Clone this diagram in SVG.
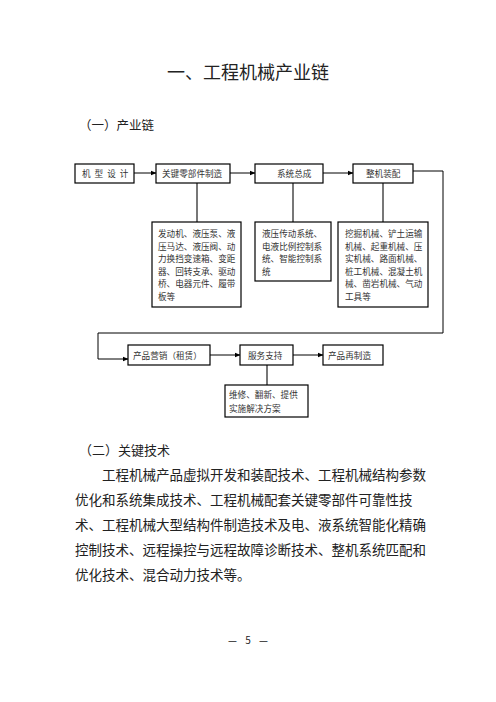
<svg xmlns="http://www.w3.org/2000/svg" width="496" height="702" viewBox="0 0 496 702">
<style>
.h{font-family:"Noto Sans CJK SC","Noto Sans",sans-serif;fill:#222}
.t{font-family:"Noto Sans CJK SC","Noto Sans",sans-serif;font-size:8.6px;fill:#333}
.b{fill:#fff;stroke:#000;stroke-width:1.2}
.c{fill:none;stroke:#000;stroke-width:1}
.g{fill:none;stroke:#555;stroke-width:1.6}
</style>
<defs>
<marker id="a" markerWidth="6" markerHeight="6" refX="5.5" refY="3" orient="auto" markerUnits="userSpaceOnUse">
<path d="M0,0.5 L6,3 L0,5.5 Z" fill="#000"/>
</marker>
</defs>
<rect width="496" height="702" fill="#fff"/>
<text class="h" x="248" y="79" font-size="18" text-anchor="middle">一、工程机械产业链</text>
<text class="h" x="79" y="130" font-size="12.5">（一）产业链</text>

<g id="connectors">
<line class="c" x1="134" y1="173" x2="156" y2="173" marker-end="url(#a)"/>
<line class="c" x1="230" y1="173" x2="255" y2="173" marker-end="url(#a)"/>
<line class="c" x1="323" y1="173" x2="353" y2="173" marker-end="url(#a)"/>
<polyline class="c" points="413,171 443,171 443,333 98,333 98,359 128,359" marker-end="url(#a)"/>
<line class="g" x1="197" y1="183" x2="197" y2="222"/>
<line class="g" x1="293" y1="183" x2="293" y2="222"/>
<line class="g" x1="383" y1="183" x2="383" y2="222"/>
<line class="c" x1="210" y1="355" x2="240" y2="355" marker-end="url(#a)"/>
<line class="c" x1="293" y1="355" x2="323" y2="355" marker-end="url(#a)"/>
<line class="g" x1="267" y1="365" x2="267" y2="385"/>
</g>

<g id="n1"><rect class="b" x="75" y="164" width="59" height="19"/><text class="t" x="82" y="177" letter-spacing="4">机型设计</text></g>
<g id="n2"><rect class="b" x="156" y="164" width="74" height="19"/><text class="t" x="162" y="177">关键零部件制造</text></g>
<g id="n3"><rect class="b" x="255" y="164" width="68" height="19"/><text class="t" x="277" y="177">系统总成</text></g>
<g id="n4"><rect class="b" x="353" y="164" width="60" height="19"/><text class="t" x="366" y="177">整机装配</text></g>

<g id="n5"><rect class="b" x="152" y="222" width="89" height="85"/>
<text class="t" x="158" y="237">发动机、液压泵、液</text>
<text class="t" x="158" y="249.5">压马达、液压阀、动</text>
<text class="t" x="158" y="262">力换挡变速箱、变距</text>
<text class="t" x="158" y="274.5">器、回转支承、驱动</text>
<text class="t" x="158" y="287">桥、电器元件、履带</text>
<text class="t" x="158" y="299.5">板等</text></g>

<g id="n6"><rect class="b" x="255" y="222" width="76" height="59"/>
<text class="t" x="262" y="237">液压传动系统、</text>
<text class="t" x="262" y="249.5">电液比例控制系</text>
<text class="t" x="262" y="262">统、智能控制系</text>
<text class="t" x="262" y="274.5">统</text></g>

<g id="n7"><rect class="b" x="338" y="222" width="90" height="85"/>
<text class="t" x="345" y="237">挖掘机械、铲土运输</text>
<text class="t" x="345" y="249.5">机械、起重机械、压</text>
<text class="t" x="345" y="262">实机械、路面机械、</text>
<text class="t" x="345" y="274.5">桩工机械、混凝土机</text>
<text class="t" x="345" y="287">械、凿岩机械、气动</text>
<text class="t" x="345" y="299.5">工具等</text></g>

<g id="n8"><rect class="b" x="128" y="345" width="82" height="20"/><text class="t" x="133" y="358.5">产品营销（租赁）</text></g>
<g id="n9"><rect class="b" x="240" y="345" width="53" height="20"/><text class="t" x="248" y="358.5">服务支持</text></g>
<g id="n10"><rect class="b" x="323" y="345" width="60" height="20"/><text class="t" x="328" y="358.5">产品再制造</text></g>
<g id="n11"><rect class="b" x="225" y="385" width="83" height="32"/>
<text class="t" x="229" y="398">维修、翻新、提供</text>
<text class="t" x="229" y="411.5">实施解决方案</text></g>

<text class="h" x="79" y="455" font-size="13">（二）关键技术</text>
<g class="h" font-size="13.5">
<text x="102" y="480">工程机械产品虚拟开发和装配技术、工程机械结构参数</text>
<text x="75" y="505">优化和系统集成技术、工程机械配套关键零部件可靠性技</text>
<text x="75" y="530">术、工程机械大型结构件制造技术及电、液系统智能化精确</text>
<text x="75" y="555">控制技术、远程操控与远程故障诊断技术、整机系统匹配和</text>
<text x="75" y="580">优化技术、混合动力技术等。</text>
</g>
<text class="h" x="248" y="644" font-size="10" text-anchor="middle" fill="#444" word-spacing="6">— 5 —</text>
</svg>
